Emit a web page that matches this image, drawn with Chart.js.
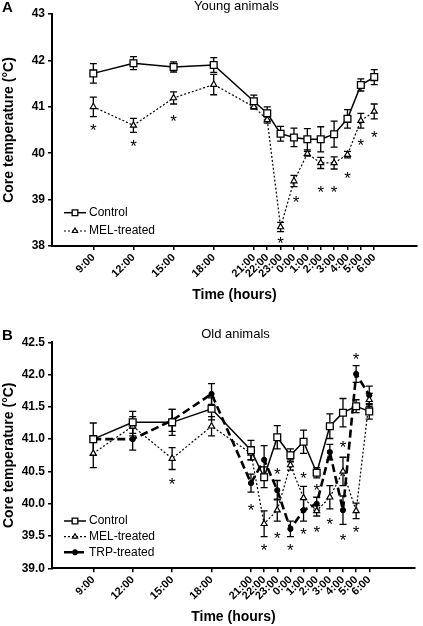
<!DOCTYPE html>
<html>
<head>
<meta charset="utf-8">
<script src="https://cdn.jsdelivr.net/npm/chart.js@4"></script>
<style>
  html, body { margin: 0; padding: 0; background: #fff; }
  .panel { position: absolute; left: 0; width: 423px; }
</style>
</head>
<body>
<div class="panel" style="top:0;height:306px"><canvas id="chartA" width="423" height="306"></canvas></div>
<div class="panel" style="top:306px;height:320px"><canvas id="chartB" width="423" height="320"></canvas></div>
<script>
// hours since midnight of day 1 (24 = 0:00 next day)
const hours = [9, 12, 15, 18, 21, 22, 23, 24, 25, 26, 27, 28, 29, 30];

// Panel A - young animals
const controlA    = [41.72, 41.94, 41.86, 41.90, 41.12, 40.86, 40.42, 40.34, 40.30, 40.30, 40.41, 40.74, 41.47, 41.64];
const controlAErr = [0.21, 0.14, 0.11, 0.16, 0.13, 0.14, 0.16, 0.20, 0.23, 0.27, 0.28, 0.20, 0.13, 0.16];
const melA        = [41.00, 40.60, 41.19, 41.48, 41.00, 40.72, 38.41, 39.40, 39.99, 39.79, 39.79, 39.97, 40.70, 40.90];
const melAErr     = [0.21, 0.15, 0.13, 0.22, 0.05, 0.07, 0.10, 0.12, 0.05, 0.12, 0.13, 0.07, 0.16, 0.16];
const starsAx     = [9, 12, 15, 23, 24.15, 26, 27, 28, 29, 30];
const starsAy     = [40.57, 40.22, 40.76, 38.14, 39.03, 39.23, 39.23, 39.55, 40.25, 40.43];

// Panel B - old animals
const controlB    = [41.00, 41.26, 41.26, 41.47, 40.83, 40.41, 41.03, 40.75, 40.96, 40.48, 41.20, 41.41, 41.51, 41.43];
const controlBErr = [0.25, 0.17, 0.20, 0.17, 0.15, 0.16, 0.18, 0.10, 0.18, 0.08, 0.19, 0.22, 0.10, 0.12];
const melB        = [40.78, 41.20, 40.70, 41.20, 40.78, 39.69, 39.90, 40.60, 40.09, 39.89, 40.10, 40.50, 39.89, 41.61];
const melBErr     = [0.22, 0.15, 0.17, 0.15, 0.10, 0.20, 0.17, 0.08, 0.18, 0.08, 0.18, 0.22, 0.12, 0.10];
const trpB        = [41.00, 41.00, 41.29, 41.70, 40.32, 40.68, 40.21, 39.61, 39.90, 40.00, 40.80, 39.90, 42.01, 41.68];
const trpBErr     = [0.05, 0.17, 0.17, 0.16, 0.14, 0.22, 0.15, 0.12, 0.17, 0.10, 0.12, 0.22, 0.13, 0.14];
const starsBx     = [15, 21, 22, 23, 23, 24, 25, 25, 26, 26, 27, 28, 28, 29, 29];
const starsBy     = [40.36, 39.96, 39.34, 40.52, 39.53, 39.34, 40.45, 39.58, 40.26, 39.62, 39.74, 40.93, 39.50, 42.30, 39.61];

Chart.defaults.font.family = 'Arial, "Liberation Sans", sans-serif';
Chart.defaults.color = '#000';

const pts = (vals) => vals.map((v, i) => ({ x: hours[i], y: v }));
const starPts = (xs, ys) => xs.map((x, i) => ({ x: x, y: ys[i] }));

// vertical error bars with caps
const errorBars = {
    id: 'errorBars',
    beforeDatasetsDraw(chart) {
        const ctx = chart.ctx, ys = chart.scales.y;
        chart.data.datasets.forEach((ds, i) => {
            if (!ds.errors) return;
            const meta = chart.getDatasetMeta(i);
            ctx.save();
            ctx.strokeStyle = '#000';
            ctx.lineWidth = 1.3;
            meta.data.forEach((pt, j) => {
                const v = ds.data[j].y, e = ds.errors[j];
                const top = ys.getPixelForValue(v + e), bot = ys.getPixelForValue(v - e);
                ctx.beginPath();
                ctx.moveTo(pt.x, top); ctx.lineTo(pt.x, bot);
                ctx.moveTo(pt.x - 3.5, top); ctx.lineTo(pt.x + 3.5, top);
                ctx.moveTo(pt.x - 3.5, bot); ctx.lineTo(pt.x + 3.5, bot);
                ctx.stroke();
            });
            ctx.restore();
        });
    }
};

// significance asterisks
const asterisks = {
    id: 'asterisks',
    afterDatasetsDraw(chart) {
        const ctx = chart.ctx;
        chart.data.datasets.forEach((ds, i) => {
            if (!ds.stars) return;
            const meta = chart.getDatasetMeta(i);
            ctx.save();
            ctx.fillStyle = '#000';
            ctx.font = '17px Arial, "Liberation Sans", sans-serif';
            ctx.textAlign = 'center';
            ctx.textBaseline = 'alphabetic';
            meta.data.forEach(pt => ctx.fillText('*', pt.x, pt.y + 9.5));
            ctx.restore();
        });
    }
};

// legend inside the plot, line + marker + label
const insideLegend = {
    id: 'insideLegend',
    afterDraw(chart, args, opts) {
        const ctx = chart.ctx;
        let row = 0;
        chart.data.datasets.forEach(ds => {
            if (ds.stars) return;
            const y = opts.ys[row++];
            ctx.save();
            ctx.strokeStyle = '#000';
            ctx.lineWidth = ds.borderWidth;
            ctx.setLineDash(ds.borderDash || []);
            ctx.beginPath();
            ctx.moveTo(opts.x, y); ctx.lineTo(opts.x + 22, y);
            ctx.stroke();
            ctx.setLineDash([]);
            ctx.fillStyle = ds.pointBackgroundColor;
            ctx.lineWidth = ds.pointBorderWidth;
            Chart.helpers.drawPoint(ctx, { pointStyle: ds.pointStyle, radius: ds.legendRadius, rotation: 0, borderWidth: ds.pointBorderWidth }, opts.x + 11, y);
            ctx.fillStyle = '#000';
            ctx.font = '12px Arial, "Liberation Sans", sans-serif';
            ctx.textBaseline = 'middle';
            ctx.textAlign = 'left';
            ctx.fillText(ds.label, opts.x + 25, y);
            ctx.restore();
        });
    }
};

// panel letter and title
const panelText = {
    id: 'panelText',
    afterDraw(chart, args, opts) {
        const ctx = chart.ctx, ca = chart.chartArea;
        ctx.save();
        ctx.fillStyle = '#000';
        ctx.textBaseline = 'alphabetic';
        ctx.font = 'bold 15px Arial, "Liberation Sans", sans-serif';
        ctx.textAlign = 'left';
        ctx.fillText(opts.letter, 2, opts.letterY);
        ctx.font = '13px Arial, "Liberation Sans", sans-serif';
        ctx.textAlign = 'center';
        ctx.fillText(opts.title, (ca.left + ca.right) / 2 + 2, opts.titleY);
        ctx.restore();
    }
};

function controlSet(vals, errs) {
    return { label: 'Control', data: pts(vals), errors: errs, borderColor: '#000', borderWidth: 1.5,
        pointStyle: 'rect', pointRadius: 4.8, legendRadius: 4, pointBackgroundColor: '#fff', pointBorderColor: '#000', pointBorderWidth: 1.3 };
}
function melSet(vals, errs) {
    return { label: 'MEL-treated', data: pts(vals), errors: errs, borderColor: '#000', borderWidth: 1.2, borderDash: [2, 2],
        pointStyle: 'triangle', pointRadius: 3.5, legendRadius: 3, pointBackgroundColor: '#fff', pointBorderColor: '#000', pointBorderWidth: 1.2 };
}
function trpSet(vals, errs) {
    return { label: 'TRP-treated', data: pts(vals), errors: errs, borderColor: '#000', borderWidth: 2.6, borderDash: [8, 4],
        pointStyle: 'circle', pointRadius: 2.6, legendRadius: 2.6, pointBackgroundColor: '#000', pointBorderColor: '#000', pointBorderWidth: 1 };
}
function starSet(xs, ys) {
    return { label: '', stars: true, data: starPts(xs, ys), showLine: false, pointRadius: 0 };
}

function makeChart(id, cfg) {
    return new Chart(document.getElementById(id), {
        type: 'line',
        data: { datasets: cfg.datasets },
        options: {
            responsive: false,
            animation: false,
            layout: { padding: cfg.padding },
            plugins: {
                legend: { display: false },
                tooltip: { enabled: false },
                insideLegend: cfg.legend,
                panelText: cfg.text
            },
            scales: {
                x: {
                    type: 'linear', min: cfg.xMin, max: cfg.xMax,
                    afterBuildTicks: s => { s.ticks = hours.map(v => ({ value: v })); },
                    afterFit: s => { s.height = cfg.xHeight; },
                    ticks: { callback: v => (v % 24) + ':00', minRotation: 45, maxRotation: 45, autoSkip: false,
                        font: { size: 11, weight: 'bold' }, color: '#000', padding: 1 },
                    grid: { drawOnChartArea: false, tickLength: 4, color: '#000', lineWidth: 1.5 },
                    border: { color: '#000', width: 2 },
                    title: { display: true, text: 'Time (hours)', color: '#000', font: { size: 14, weight: 'bold' },
                        padding: { top: 0, bottom: cfg.xTitlePad } }
                },
                y: {
                    min: cfg.yMin, max: cfg.yMax,
                    afterFit: s => { s.width = 52; },
                    ticks: { stepSize: cfg.yStep, callback: cfg.yFmt, font: { size: 12, weight: 'bold' }, color: '#000', padding: 3 },
                    grid: { drawOnChartArea: false, tickLength: 4, color: '#000', lineWidth: 1.5 },
                    border: { color: '#000', width: 2 },
                    title: { display: true, text: 'Core temperature (°C)', color: '#000', font: { size: 14, weight: 'bold' },
                        padding: { top: 1, bottom: 0 } }
                }
            }
        },
        plugins: [errorBars, asterisks, insideLegend, panelText]
    });
}

makeChart('chartA', {
    datasets: [controlSet(controlA, controlAErr), melSet(melA, melAErr), starSet(starsAx, starsAy)],
    padding: { top: 14, right: 6, bottom: 0, left: 0 },
    xMin: 5.91, xMax: 33.19, xHeight: 60, xTitlePad: 2,
    yMin: 38, yMax: 43, yStep: 1, yFmt: v => v,
    legend: { x: 64, ys: [212.7, 231] },
    text: { letter: 'A', letterY: 12, title: 'Young animals', titleY: 10 }
});

makeChart('chartB', {
    datasets: [controlSet(controlB, controlBErr), melSet(melB, melBErr), trpSet(trpB, trpBErr), starSet(starsBx, starsBy)],
    padding: { top: 36.3, right: 8, bottom: 0, left: 0 },
    xMin: 5.86, xMax: 33.48, xHeight: 57.7, xTitlePad: 0,
    yMin: 39, yMax: 42.5, yStep: 0.5, yFmt: v => v.toFixed(1),
    legend: { x: 64, ys: [215, 230.7, 246.3] },
    text: { letter: 'B', letterY: 34, title: 'Old animals', titleY: 32.3 }
});
</script>
</body>
</html>
